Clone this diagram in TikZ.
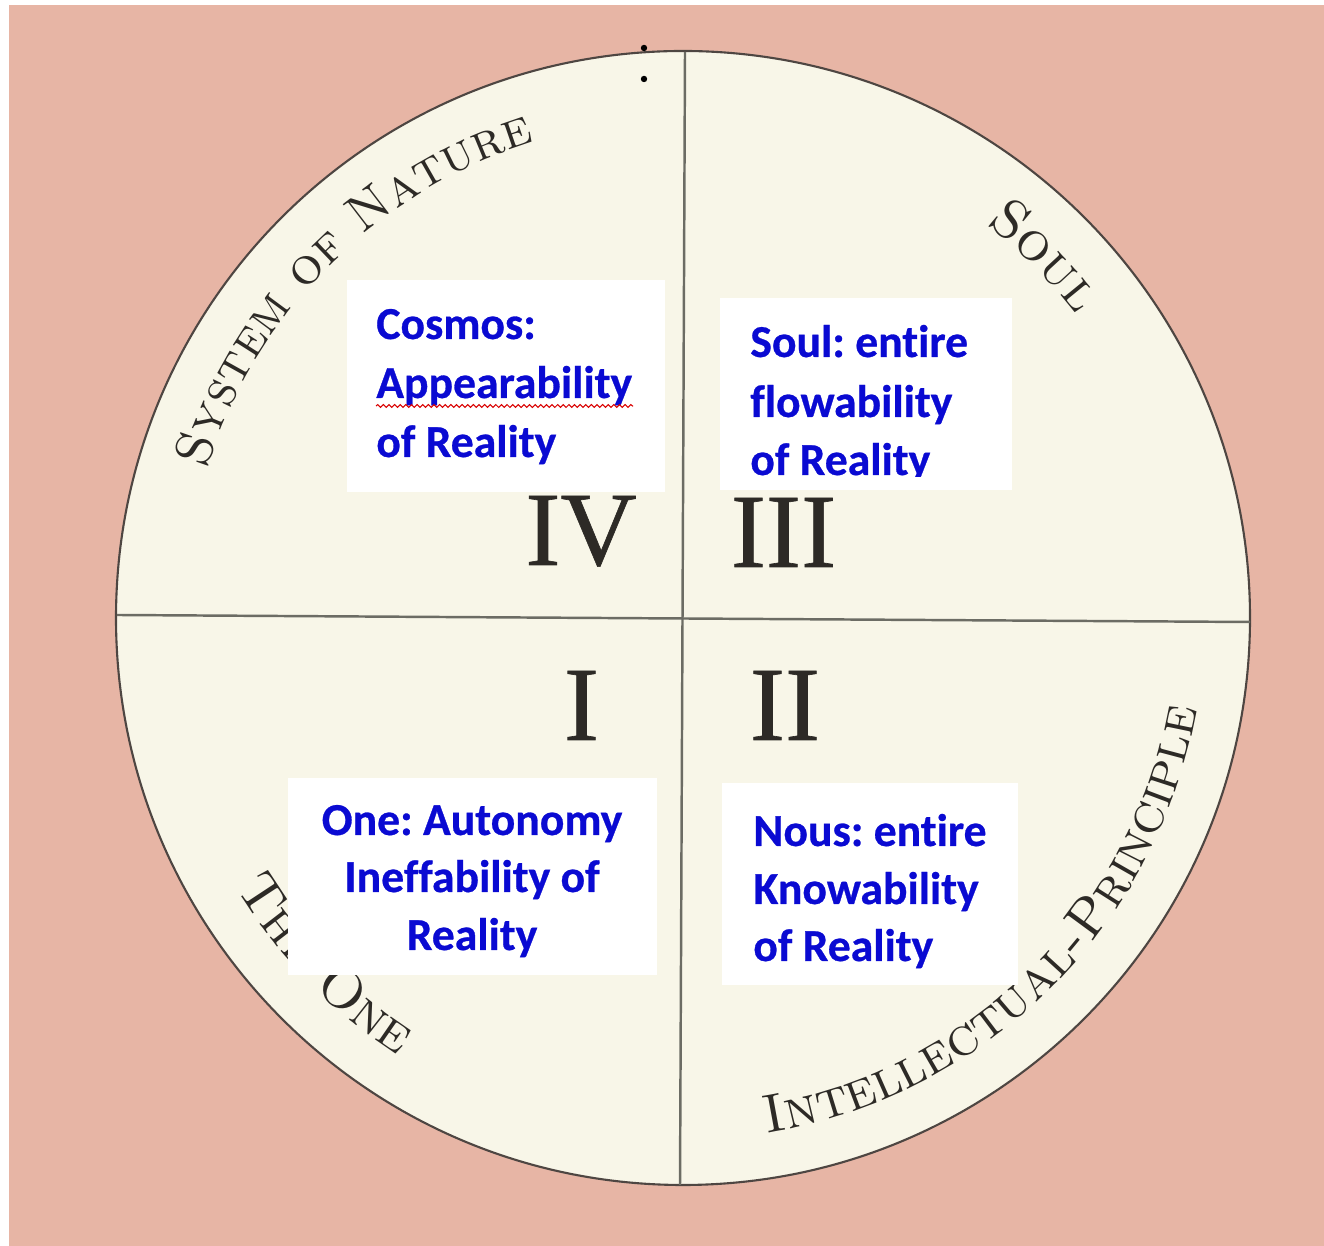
\documentclass[tikz,border=0pt]{standalone}
\usepackage{fontspec}
\newfontfamily\carlito{Carlito}[Ligatures=NoCommon,BoldFeatures={FakeBold=0.6}]
\newfontfamily\numfont{Liberation Serif}[FakeBold=0.6]
\usetikzlibrary{decorations.text,decorations.pathmorphing}
\definecolor{pinkbg}{RGB}{231,181,165}
\definecolor{cream}{RGB}{248,246,232}
\definecolor{txtblue}{RGB}{10,10,210}
\definecolor{inkgray}{RGB}{45,42,38}
\definecolor{rimgray}{RGB}{78,70,66}
\definecolor{linegray}{RGB}{108,108,100}
\newcommand\arcfont{\fontsize{31}{31}\selectfont\scshape}
\newcommand\arcfontsm{\fontsize{29.5}{30}\selectfont\scshape}
\frenchspacing
\begin{document}
\frenchspacing
\begin{tikzpicture}[x=0.02cm,y=0.02cm,
  bluetxt/.style={inner sep=0pt, anchor=base west, font=\frenchspacing\carlito\bfseries\fontsize{26}{30}\selectfont, text=txtblue},
  bluetxtc/.style={bluetxt, anchor=base},
  numeral/.style={inner sep=0pt, anchor=base, font=\numfont\fontsize{60}{60}\selectfont, text=inkgray},
  arctext/.style={decorate, decoration={text along path, text align=center, text color=inkgray, text={|\arcfont|#1}}},
  arctextsm/.style={decorate, decoration={text along path, text align=center, text color=inkgray, text={|\arcfontsm|#1}}},
  whitebox/.style={fill=white},
  divider/.style={draw=linegray, line width=1.4pt}]
\useasboundingbox (0,0) rectangle (1324,1246);
\fill[white] (0,0) rectangle (1324,1246);
\fill[pinkbg] (9,-5) rectangle (1330,1241);
\coordinate (C) at (683,628);
\fill[cream] (C) circle[radius=567];
\draw[rimgray, line width=1.2pt] (C) circle[radius=567];
% dividers
\coordinate (vt) at (685,1194);
\coordinate (vb) at (680,61);
\coordinate (hl) at (117,631);
\coordinate (hr) at (1250,624);
\draw[divider] (vt) -- (vb);
\draw[divider] (hl) -- (hr);
% curved labels
\path[arctextsm={System of Nature}] (C) ++(178:499) arc[start angle=178, end angle=92, radius=499];
\path[arctext={Soul}] (C) ++(88:497) arc[start angle=88, end angle=2, radius=497];
\path[arctext={Intellectual-Principle}] (C) ++(-95:522) arc[start angle=-95, end angle=4.2, radius=522];
\path[arctext={The One}] (C) ++(180:522) arc[start angle=180, end angle=268, radius=522];
% white boxes
\fill[whitebox] (347,754) rectangle (665,966);
\fill[whitebox] (720,756) rectangle (1012,948);
\fill[whitebox] (288,271) rectangle (657,468);
\fill[whitebox] (722,261) rectangle (1018,463);
% texts
\node[bluetxt] (cos1) at (376,907) {Cosmos:};
\node[bluetxt] (cos2) at (376,848) {Appearability};
\node[bluetxt] (cos3) at (376,789) {of Reality};
\coordinate (wl) at (376,840);
\coordinate (wr) at (633,840);
\draw[red!85!black, line width=0.6pt, decorate, decoration={snake, amplitude=0.8pt, segment length=3.2pt}] (wl) -- (wr);
\node[bluetxt] (soul1) at (750,889) {Soul: entire};
\node[bluetxt] (soul2) at (750,829) {flowability};
\begin{scope}
\clip (720,769.5) rectangle (1012,948);
\node[bluetxt] (soul3) at (750,771) {of Reality};
\end{scope}
\node[bluetxtc] (one1) at (472,411) {One: Autonomy};
\node[bluetxtc] (one2) at (472,354) {Ineffability of};
\node[bluetxtc] (one3) at (472,296) {Reality};
\node[bluetxt] (nous1) at (753,400) {Nous: entire};
\node[bluetxt] (nous2) at (753,342) {Knowability};
\node[bluetxt] (nous3) at (753,285) {of Reality};
% numerals
\node[numeral] (nIV) at (581,681) {IV};
\node[numeral] (nIII) at (783.5,679) {III};
\node[numeral] (nI) at (581.5,506) {I};
\node[numeral] (nII) at (785,506) {II};
% dots
\fill[black] (644,1198) circle[radius=3.2];
\fill[black] (644,1167) circle[radius=3.2];
\end{tikzpicture}
\end{document}
